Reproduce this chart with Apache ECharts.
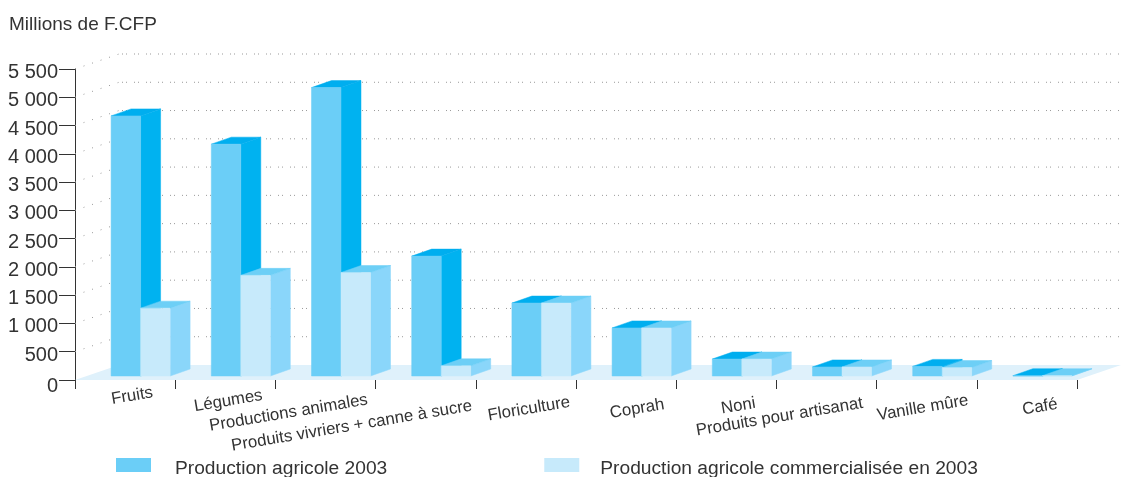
<!DOCTYPE html>
<html><head><meta charset="utf-8">
<style>html,body{margin:0;padding:0;background:#fff}#c{width:1122px;height:477px}</style>
<script src="https://cdn.jsdelivr.net/npm/echarts@6/dist/echarts.min.js"></script>
</head><body><div id="c"></div>
<script>
const categories = ['Fruits','Légumes','Productions animales','Produits vivriers + canne à sucre','Floriculture','Coprah','Noni','Produits pour artisanat','Vanille mûre','Café'];
const production = [4600,4100,5100,2120,1290,850,300,160,170,5];
const commercialisee = [1200,1780,1830,180,1290,850,300,160,150,5];
const yTicks = [500,1000,1500,2000,2500,3000,3500,4000,4500,5000,5500];
// label placement relative to each category's tick band
const labelDx = [7,3,-37,-74,3,11,12,-47,-4,13];
const labelDy = [16,21,33,46,29,29,26,37,28,27];

const DEPTH_X = 44, DEPTH_Y = 15, BAR_DX = 20, BAR_DY = 7, BASE_DY = 4, BAR_W = 29.5;
const FONT = '"Liberation Sans", Arial, sans-serif';
const poly = (points, fill) => ({type:'polygon', shape:{points}, style:{fill, stroke:fill, lineWidth:0.5}});

function barRenderer(offset, front, side, top) {
  return (params, api) => {
    const c = api.coord([api.value(0), api.value(1)]);
    const o = api.coord([api.value(0), 0]);
    const x0 = o[0] + offset, x1 = x0 + BAR_W;
    const yb = o[1] - BASE_DY, yt = c[1] - BASE_DY;
    return {type:'group', children:[
      poly([[x1,yb],[x1+BAR_DX,yb-BAR_DY],[x1+BAR_DX,yt-BAR_DY],[x1,yt]], side),
      poly([[x0,yt],[x0+BAR_DX,yt-BAR_DY],[x1+BAR_DX,yt-BAR_DY],[x1,yt]], top),
      poly([[x0,yb],[x1,yb],[x1,yt],[x0,yt]], front)
    ]};
  };
}

const option = {
  animation:false,
  textStyle:{fontFamily:FONT},
  title:{text:'Millions de F.CFP', left:9, top:15, padding:0, textStyle:{fontFamily:FONT,fontSize:19,fontWeight:'normal',color:'#333'}},
  legend:{left:116, top:458, itemWidth:35, itemHeight:14, itemGap:157, icon:'rect', padding:0, selectedMode:false,
    data:['Production agricole 2003','Production agricole commercialisée en 2003'],
    formatter:n=>(n==='Production agricole 2003'?'{a|':'{b|')+n+'}',
    textStyle:{fontFamily:FONT,fontSize:19.2,color:'#333',rich:{
      a:{fontFamily:FONT,fontSize:19.2,color:'#333',padding:[8,0,0,19]},
      b:{fontFamily:FONT,fontSize:19.2,color:'#333',padding:[8,0,0,16]}
    }}},
  grid:{left:75, right:45, top:69, height:311},
  xAxis:{type:'category', data:categories, axisLine:{show:false},
    axisTick:{show:true,alignWithLabel:false,interval:0,length:9,lineStyle:{color:'#333'}},
    axisLabel:{show:false}},
  yAxis:{type:'value', min:0, max:5500, interval:500, splitLine:{show:false},
    axisLine:{show:true,lineStyle:{color:'#333'}},
    axisTick:{show:true,length:16,lineStyle:{color:'#333'}},
    axisLabel:{fontFamily:FONT,fontSize:20,color:'#333',margin:17,padding:[7,0,0,0],
      formatter:v=>v===0?'{z|0}':String(v).replace(/\B(?=(\d{3})+$)/g,' '),
      rich:{z:{fontFamily:FONT,fontSize:20,color:'#333',padding:[6,0,0,0]}}}},
  series:[
    {type:'custom', silent:true, z:1, clip:false, data:[0], renderItem:(p,api)=>{
      const s=p.coordSys, y=s.y+s.height;
      return {type:'polygon', shape:{points:[[s.x,y],[s.x+DEPTH_X,y-DEPTH_Y],[s.x+s.width+DEPTH_X,y-DEPTH_Y],[s.x+s.width,y]]}, style:{fill:'#DFF1FB'}};
    }},
    {type:'custom', silent:true, z:1, clip:false, data:yTicks.map(v=>[0,v]), encode:{y:1}, renderItem:(p,api)=>{
      const s=p.coordSys, y=api.coord([0,api.value(1)])[1];
      return {type:'group',children:[
        {type:'line',shape:{x1:s.x,y1:y,x2:s.x+DEPTH_X,y2:y-DEPTH_Y},style:{stroke:'#999',lineWidth:1,lineDash:[1,8]}},
        {type:'line',shape:{x1:s.x+DEPTH_X+3,y1:y-DEPTH_Y,x2:1122,y2:y-DEPTH_Y},style:{stroke:'#999',lineWidth:1,lineDash:[1,3,1,7]}}
      ]};
    }},
    {name:'Production agricole 2003', type:'custom', z:2, clip:false, itemStyle:{color:'#6BCEF7'},
      data:production.map((v,i)=>[i,v]), encode:{x:0,y:1},
      renderItem:barRenderer(-14,'#6BCEF7','#00B2F0','#00AEEF')},
    {name:'Production agricole commercialisée en 2003', type:'custom', z:3, clip:false, itemStyle:{color:'#C7EAFB'},
      data:commercialisee.map((v,i)=>[i,v]), encode:{x:0,y:1},
      renderItem:barRenderer(15.5,'#C7EAFB','#8AD6FA','#6DCFF6')},
    {type:'custom', silent:true, z:4, clip:false, data:categories.map((c,i)=>[i]), encode:{x:0}, renderItem:(p,api)=>{
      const i=api.value(0), o=api.coord([i,0]);
      return {type:'text', x:o[0]+labelDx[i], y:o[1]+labelDy[i], rotation:9.5*Math.PI/180,
        style:{text:categories[i], fontFamily:FONT, fontSize:16.8, fill:'#333', align:'center', verticalAlign:'middle'}};
    }}
  ]
};
const chart = echarts.init(document.getElementById('c'),null,{renderer:'canvas'});
chart.setOption(option);
</script></body></html>
